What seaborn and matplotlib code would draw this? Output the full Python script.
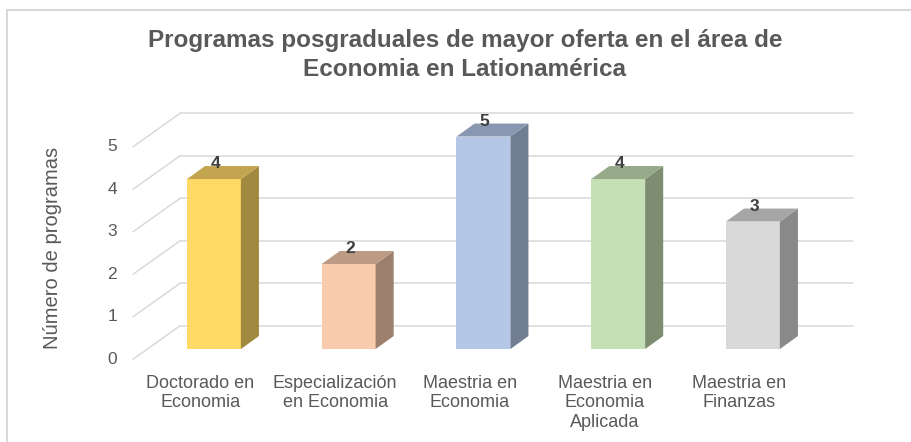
import matplotlib.pyplot as plt
import matplotlib.patches as mpatches
import numpy as np
import seaborn as sns

categories = [
    "Doctorado en\nEconomia",
    "Especialización\nen Economia",
    "Maestria en\nEconomia",
    "Maestria en\nEconomia\nAplicada",
    "Maestria en\nFinanzas",
]
values = [4, 2, 5, 4, 3]
front_colors = ["#FFD966", "#F8CBAD", "#B4C7E7", "#C5E0B4", "#D9D9D9"]
y_ticks = [0, 1, 2, 3, 4, 5]

title = "Programas posgraduales de mayor oferta en el área de\nEconomia en Lationamérica"
y_label = "Número de programas"


def shade(hex_color, factor):
    rgb = np.array([int(hex_color[i:i + 2], 16) for i in (1, 3, 5)]) / 255.0
    return tuple(rgb * factor)


sns.set_theme(style="white")
plt.rcParams["font.family"] = ["Liberation Sans", "DejaVu Sans"]
text_color = "#595959"
grid_color = "#D9D9D9"

fig = plt.figure(figsize=(9.12, 4.42), dpi=100)
ax = fig.add_axes([0.1425, 0.1742, 0.8004, 0.5995])

sns.barplot(x=categories, y=values, hue=categories, palette=front_colors,
            width=0.4, legend=False, ax=ax, zorder=3, saturation=1,
            linewidth=0, edgecolor="none")

# pseudo 3d: bar depth and wall depth in data units
bar_dx, bar_dy = 0.134, 0.306
wall_x0, wall_x1 = -0.60, 4.742
wall_dx = 0.35
front_off, back_off = -0.24, 0.55

for t in y_ticks:
    ax.plot([wall_x0 + wall_dx, wall_x1], [t + back_off, t + back_off],
            color=grid_color, lw=1.1, zorder=1)
    ax.plot([wall_x0, wall_x0 + wall_dx], [t + front_off, t + back_off],
            color=grid_color, lw=1.1, zorder=1)
    ax.text(wall_x0 - 0.12, t + front_off, str(t), ha="right", va="center",
            fontsize=12.5, color=text_color)

for bar, col, v in zip(ax.patches, front_colors, values):
    x0 = bar.get_x()
    x1 = x0 + bar.get_width()
    h = bar.get_height()
    side = [(x1, 0), (x1 + bar_dx, bar_dy), (x1 + bar_dx, h + bar_dy), (x1, h)]
    top = [(x0, h), (x0 + bar_dx, h + bar_dy), (x1 + bar_dx, h + bar_dy), (x1, h)]
    ax.add_patch(mpatches.Polygon(side, closed=True, facecolor=shade(col, 0.63),
                                  edgecolor="none", zorder=3))
    ax.add_patch(mpatches.Polygon(top, closed=True, facecolor=shade(col, 0.76),
                                  edgecolor="none", zorder=3))
    ax.text(x0 + bar.get_width() / 2 + 0.01, h + bar_dy - 0.12, str(v),
            ha="center", va="bottom", fontsize=12.5, fontweight="bold",
            color="#404040", zorder=4)

for i, lab in enumerate(categories):
    ax.text(i - 0.1, -0.6, lab, ha="center", va="top", fontsize=13,
            color=text_color, linespacing=1.22)

ax.set_xlim(-0.623, 4.794)
ax.set_ylim(-0.376, 5.86)
ax.set_xticks([])
ax.set_yticks([])
ax.set_xlabel("")
ax.set_ylabel("")
for s in ax.spines.values():
    s.set_visible(False)
ax.patch.set_alpha(0)

fig.text(465 / 912, 1 - 55 / 442, title, ha="center", va="center",
         fontsize=17.5, fontweight="bold", color=text_color, linespacing=1.3)
fig.text(53 / 912, 1 - 248 / 442, y_label, rotation=90, ha="center",
         va="center", fontsize=14.5, color=text_color)

# chart area border
fig.add_artist(mpatches.Rectangle((7 / 912, -0.05), 1.0, 1 - 10 / 442 + 0.05,
                                  transform=fig.transFigure, fill=False,
                                  edgecolor=grid_color, lw=1.5))

fig.savefig("out.png", dpi=100)
